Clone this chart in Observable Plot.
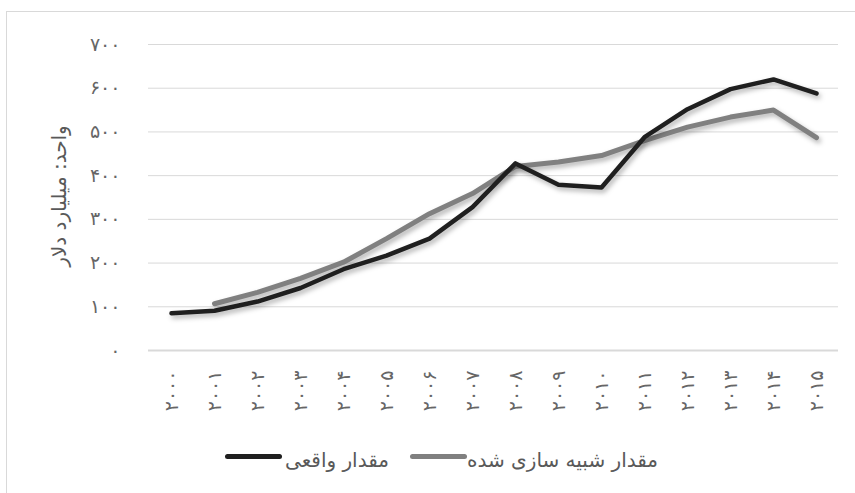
<!DOCTYPE html>
<html><head><meta charset="utf-8">
<script src="https://cdn.jsdelivr.net/npm/d3@7"></script>
<script src="https://cdn.jsdelivr.net/npm/@observablehq/plot@0.6"></script>
<style>
body{margin:0;background:#fff;font-family:"DejaVu Sans",sans-serif;}
#wrap{position:relative;width:855px;height:493px;overflow:hidden;background:#fff;}
#frame{position:absolute;left:6px;top:11px;width:900px;height:600px;border:1px solid #d9d9d9;box-sizing:border-box;}
#chart{position:absolute;left:0;top:0;}
#ytitle{position:absolute;left:-91px;top:184px;width:300px;line-height:24px;text-align:center;transform:rotate(-90deg);font-size:20px;color:#595959;direction:rtl;white-space:nowrap;}
.sw{position:absolute;height:5px;border-radius:3px;}
.lt{position:absolute;font-size:20px;color:#595959;direction:rtl;white-space:nowrap;line-height:24px;}
</style></head>
<body><div id="wrap"><div id="frame"></div><div id="chart"></div><div id="ytitle"></div><div id="legend"></div></div>
<script>
const years = [2000,2001,2002,2003,2004,2005,2006,2007,2008,2009,2010,2011,2012,2013,2014,2015];
const actual = [85,91,112,143,186,217,256,328,428,379,373,488,552,598,620,588];
const simulated = [null,107,133,165,202,256,313,359,421,431,446,480,511,534,550,487];
const yTicks = [0,100,200,300,400,500,600,700];
const seriesNames = ["مقدار واقعی","مقدار شبیه سازی شده"];
const seriesColors = ["#1f1f1f","#808080"];
const yTitle = "واحد: میلیارد دلار";

const toFa = s => String(s).replace(/\d/g, d => "۰۱۲۳۴۵۶۷۸۹"[d]);
const rows = years.map((y,i)=>({year:y, actual:actual[i], simulated:simulated[i]}));

const chart = Plot.plot({
  width:855, height:430, marginLeft:148, marginRight:17, marginTop:44, marginBottom:80,
  style:{fontFamily:"DejaVu Sans", fontSize:"19px", color:"#595959", background:"transparent", overflow:"visible"},
  x:{type:"point", domain:years, padding:0.5},
  y:{domain:[0,700]},
  marks:[
    Plot.ruleY(yTicks.slice(1), {stroke:"#d9d9d9", strokeWidth:1}),
    Plot.ruleY([0], {stroke:"#d9d9d9", strokeWidth:2}),
    Plot.axisY(yTicks, {tickSize:0, tickPadding:28, tickFormat:toFa, label:null, fill:"#666", fontSize:19}),
    Plot.axisX(years, {tickSize:0, tickRotate:-90, tickPadding:20, tickFormat:toFa, label:null, fill:"#666", fontSize:19}),
    Plot.lineY(rows.filter(d=>d.simulated!=null), {x:"year", y:"simulated", stroke:seriesColors[1], strokeWidth:5}),
    Plot.lineY(rows, {x:"year", y:"actual", stroke:seriesColors[0], strokeWidth:4.5})
  ]
});
chart.querySelectorAll('g[aria-label="line"] path').forEach(p=>{
  p.style.filter = "drop-shadow(2px 3px 2.5px rgba(0,0,0,0.3))";
});
document.getElementById("chart").appendChild(chart);
document.getElementById("ytitle").textContent = yTitle;

const legend = document.getElementById("legend");
const items = [
  {sw:225, tx:285, name:seriesNames[0], color:seriesColors[0]},
  {sw:410, tx:467, name:seriesNames[1], color:seriesColors[1]}
];
items.forEach(it=>{
  const s = document.createElement("div");
  s.className="sw"; s.style.left=it.sw+"px"; s.style.top="454px"; s.style.width="57px"; s.style.background=it.color;
  legend.appendChild(s);
  const t = document.createElement("div");
  t.className="lt"; t.style.left=it.tx+"px"; t.style.top="448px"; t.textContent=it.name;
  legend.appendChild(t);
});
</script></body></html>
